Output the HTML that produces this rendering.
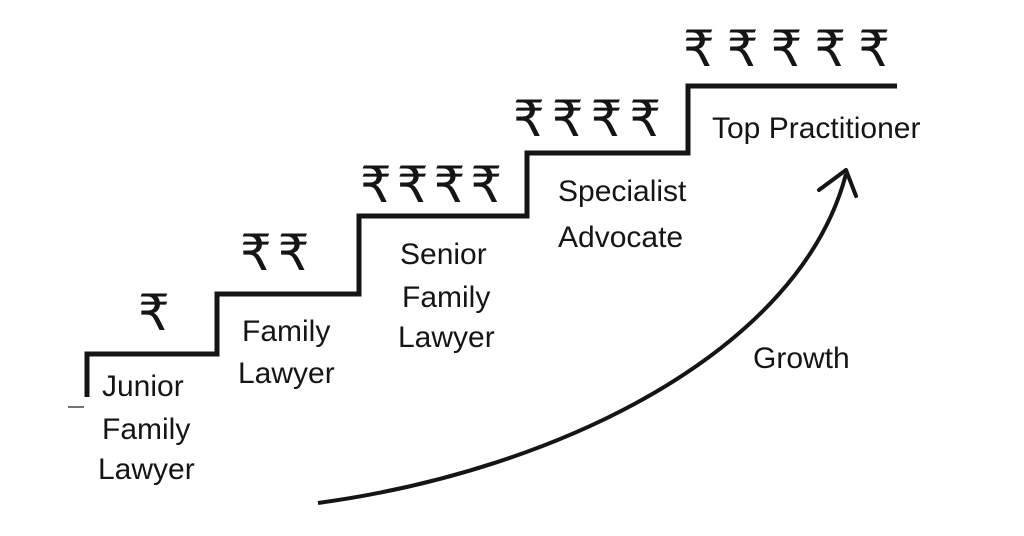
<!DOCTYPE html>
<html><head><meta charset="utf-8"><style>
html,body{margin:0;padding:0;background:#fff;}
body{width:1024px;height:536px;overflow:hidden;position:relative;}
svg{position:absolute;left:0;top:0;}
text{font-family:"Liberation Sans","DejaVu Sans",sans-serif;fill:#151515;}
.l{font-size:30px;}
.r{font-size:50px;font-family:"DejaVu Sans","Liberation Sans",sans-serif;}
</style></head><body>
<svg width="1024" height="536" viewBox="0 0 1024 536">
<path d="M87,397 V354 H217 V294 H359 V216 H527 V153 H688 V86 H897" fill="none" stroke="#151515" stroke-width="5" stroke-linejoin="miter"/>
<line x1="68" y1="407" x2="84" y2="407" stroke="#444" stroke-width="1.5"/>
<path d="M318,503 C560,470 800,350 846,174" fill="none" stroke="#151515" stroke-width="4"/>
<path d="M819,190 L846,170 L856,196" fill="none" stroke="#151515" stroke-width="4" stroke-linejoin="round" stroke-linecap="round"/>
<text class="r" x="138" y="330">₹</text>
<text class="r" x="240" y="270" letter-spacing="6">₹₹</text>
<text class="r" x="360" y="202" letter-spacing="5">₹₹₹₹</text>
<text class="r" x="513" y="136" letter-spacing="7">₹₹₹₹</text>
<text class="r" x="683" y="66" letter-spacing="12">₹₹₹₹₹</text>
<text class="l" x="102" y="396">Junior</text>
<text class="l" x="102" y="439">Family</text>
<text class="l" x="98" y="479">Lawyer</text>
<text class="l" x="242" y="341">Family</text>
<text class="l" x="238" y="383">Lawyer</text>
<text class="l" x="400" y="264">Senior</text>
<text class="l" x="402" y="307">Family</text>
<text class="l" x="398" y="347">Lawyer</text>
<text class="l" x="558" y="201">Specialist</text>
<text class="l" x="558" y="247">Advocate</text>
<text class="l" x="712" y="138">Top Practitioner</text>
<text class="l" x="753" y="368">Growth</text>
</svg>
</body></html>
